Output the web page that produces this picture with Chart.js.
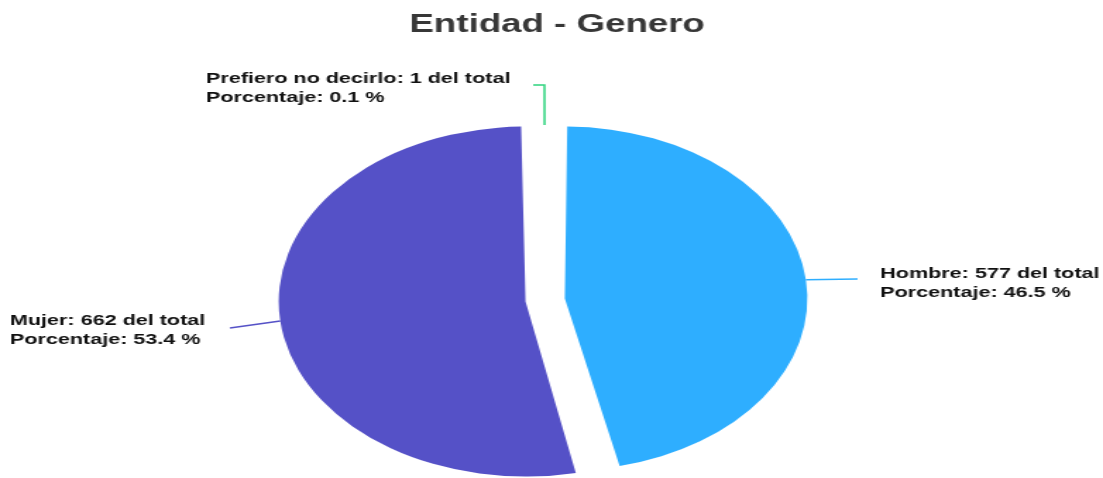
<!DOCTYPE html>
<html>
<head>
<meta charset="utf-8">
<title>Entidad - Genero</title>
<script src="https://cdn.jsdelivr.net/npm/chart.js@4.4.0/dist/chart.umd.min.js"></script>
<style>
  html, body { margin: 0; padding: 0; background: #fff; overflow: hidden; }
</style>
</head>
<body>
<!-- the original picture is stretched sideways, so the canvas is drawn at 782 wide and shown at 1103 -->
<canvas id="generoChart" width="782" height="478" style="display:block;width:1103px;height:478px"></canvas>
<script>
var tituloGrafica = "Entidad - Genero";
var categorias = ["Hombre", "Mujer", "Prefiero no decirlo"];
var totales = [577, 662, 1];
var porcentajes = [46.5, 53.4, 0.1];
var colores = ["#2eaeff", "#5551c7", "#2ed47e"];

// where each outside label goes (canvas px, before the css stretch)
var etiquetas = [
  { margen: 0, puntos: [[608, 279]], x: 624, y: 278 },
  { margen: 0, puntos: [[163, 328]], x: 7, y: 325 },
  { margen: -14, puntos: [[386, 85], [378, 85]], x: 146, y: 83 }
];

const etiquetasPlugin = {
  id: "etiquetasGenero",
  afterDatasetsDraw(chart) {
    const ctx = chart.ctx;
    const meta = chart.getDatasetMeta(0);
    ctx.save();

    // titulo
    ctx.font = 'bold 26px "Liberation Sans", Arial, sans-serif';
    ctx.fillStyle = "#373737";
    ctx.textAlign = "center";
    ctx.textBaseline = "alphabetic";
    ctx.fillText(tituloGrafica, 395, 32);

    meta.data.forEach(function (arc, i) {
      const p = arc.getProps(["x", "y", "startAngle", "endAngle", "outerRadius", "circumference"], true);
      const et = etiquetas[i];
      // chart.js moves an offset arc by offset/4 and grows it by that times "fix"
      const t = (arc.options.offset || 0) / 4;
      const mid = (p.startAngle + p.endAngle) / 2;
      const fix = 1 - Math.sin(Math.min(Math.PI, p.circumference || 0));
      const dist = p.outerRadius + t * (1 + fix) + et.margen;
      const sx = p.x + Math.cos(mid) * dist;
      const sy = p.y + Math.sin(mid) * dist;

      ctx.strokeStyle = colores[i];
      ctx.lineWidth = 1.5;
      ctx.beginPath();
      ctx.moveTo(sx, sy);
      et.puntos.forEach(function (pt) { ctx.lineTo(pt[0], pt[1]); });
      ctx.stroke();

      ctx.font = 'bold 15.3px "Liberation Sans", Arial, sans-serif';
      ctx.fillStyle = "#111111";
      ctx.textAlign = "left";
      ctx.fillText(categorias[i] + ": " + totales[i] + " del total", et.x, et.y);
      ctx.fillText("Porcentaje: " + porcentajes[i] + " %", et.x, et.y + 19);
    });
    ctx.restore();
  }
};

new Chart(document.getElementById("generoChart"), {
  type: "pie",
  data: {
    labels: categorias,
    datasets: [{
      data: totales,
      backgroundColor: colores,
      borderWidth: 0,
      offset: 56,
      radius: 161
    }]
  },
  options: {
    responsive: false,
    devicePixelRatio: 1,
    animation: false,
    events: [],
    layout: { padding: { left: 0, right: 9, top: 122, bottom: 0 } },
    plugins: {
      legend: { display: false },
      tooltip: { enabled: false },
      title: { display: false }
    }
  },
  plugins: [etiquetasPlugin]
});
</script>
</body>
</html>
